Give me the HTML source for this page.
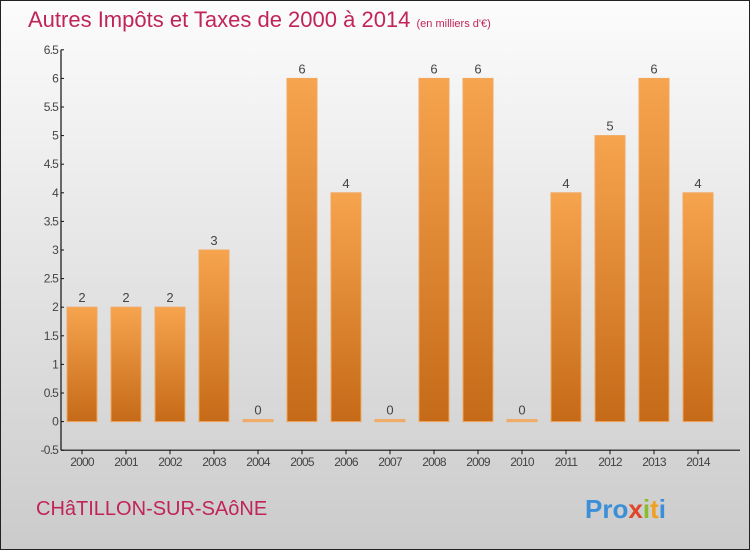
<!DOCTYPE html>
<html><head><meta charset="utf-8"><style>
body{margin:0}
#c{width:750px;height:550px;position:relative;overflow:hidden;font-family:"Liberation Sans","DejaVu Sans",sans-serif}
</style></head><body>
<div id="c">
<svg id="s" width="750" height="550" xmlns="http://www.w3.org/2000/svg">
<defs>
<linearGradient id="bg" x1="0" y1="0" x2="0" y2="1"><stop offset="0" stop-color="#fcfcfc"/><stop offset="1" stop-color="#cbcbcb"/></linearGradient>
<linearGradient id="bar" x1="0" y1="0" x2="0" y2="1"><stop offset="0" stop-color="#f7a44e"/><stop offset="1" stop-color="#c56a18"/></linearGradient>
</defs>
<rect x="0.5" y="0.5" width="749" height="549" fill="url(#bg)" stroke="#222"/>
<text x="28" y="27" font-size="22" fill="#c0245a">Autres Impôts et Taxes de 2000 à 2014 <tspan font-size="11">(en milliers d'€)</tspan></text>
<text x="36" y="515" font-size="20" fill="#c0245a">CHâTILLON-SUR-SAôNE</text>
<text x="585" y="518" font-size="26" font-weight="bold" fill="#3a8fd8">Pro<tspan fill="#e0452a">x</tspan><tspan fill="#8bbd2a">i</tspan><tspan fill="#f0a020">t</tspan><tspan fill="#3a8fd8">i</tspan></text>
<g id="plot"></g>
</svg>
</div>
<script>
const categories=["2000","2001","2002","2003","2004","2005","2006","2007","2008","2009","2010","2011","2012","2013","2014"];
const values=[2,2,2,3,0,6,4,0,6,6,0,4,5,6,4];
const yTicks=[-0.5,0,0.5,1,1.5,2,2.5,3,3.5,4,4.5,5,5.5,6,6.5];
const yTickLabels=["-0.5","0","0.5","1","1.5","2","2.5","3","3.5","4","4.5","5","5.5","6","6.5"];
const NS="http://www.w3.org/2000/svg";
const g=document.getElementById('plot');
const y=v=>421.6-(v*57.2);
const x=i=>82+i*44;
function el(t,a){const e=document.createElementNS(NS,t);for(const k in a)e.setAttribute(k,a[k]);g.appendChild(e);return e;}
let ax=el('line',{x1:61,y1:y(6.5),x2:61,y2:y(-0.5),stroke:'#111','stroke-width':1.2});


let bx=el('line',{x1:61,y1:y(-0.5),x2:740,y2:y(-0.5),stroke:'#111','stroke-width':1.2});


yTicks.forEach((t,i)=>{
  el('line',{x1:61,y1:y(t),x2:64,y2:y(t),stroke:'#111'});
  const tx=el('text',{x:58,y:y(t)+4,'font-size':12,fill:'#444','text-anchor':'end','letter-spacing':'-0.8'});
  tx.textContent=yTickLabels[i];
  
  
});
categories.forEach((c,i)=>{
  const v=values[i];
  const top=v>0?y(v):y(0)-2;
  const h=v>0?y(0)-y(v):2;
  const r=el('rect',{x:x(i)-15,y:top,width:30,height:h,fill:v>0?'url(#bar)':'#f0b070',stroke:'#f0a860','stroke-width':1});
  
  
  const vl=el('text',{x:x(i),y:top-5,'font-size':13,fill:'#444','text-anchor':'middle'});
  vl.textContent=String(v);
  
  
  el('line',{x1:x(i),y1:y(-0.5),x2:x(i),y2:y(-0.5)+4,stroke:'#111'});
  const xl=el('text',{x:x(i),y:y(-0.5)+16,'font-size':12,fill:'#444','text-anchor':'middle','letter-spacing':'-0.8'});
  xl.textContent=c;
  
  
});
</script>
</body></html>
